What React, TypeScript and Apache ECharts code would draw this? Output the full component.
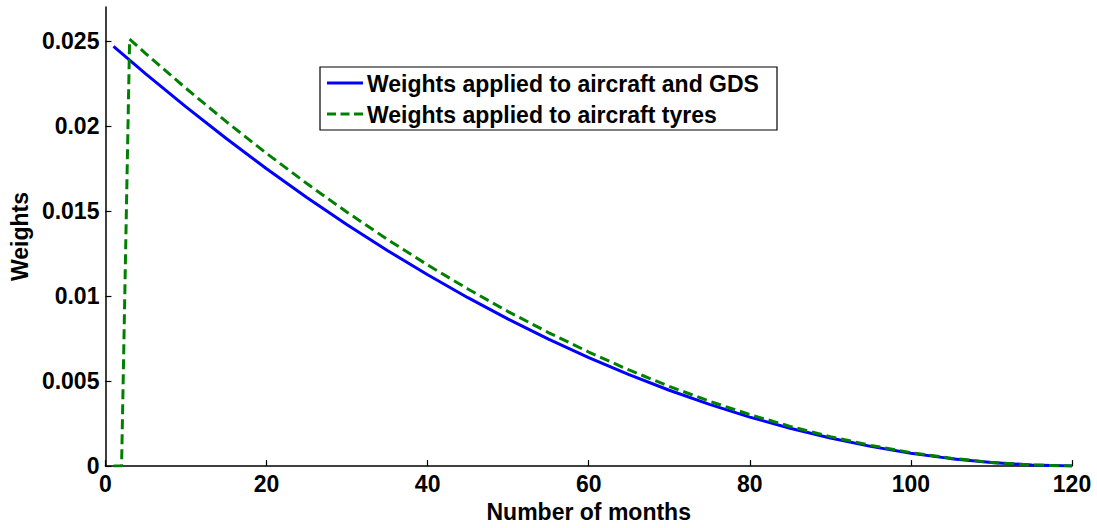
import React, { useEffect, useRef } from "react";
import * as echarts from "echarts";

const blueMonths = [1, 5, 10, 15, 20, 25, 30, 35, 40, 45, 50, 55, 60, 65, 70, 75, 80, 85, 90, 95, 100, 105, 110, 115, 120];
const blueValues = [0.02469, 0.023072, 0.021126, 0.019265, 0.017491, 0.015802, 0.014199, 0.012681, 0.01125, 0.009904, 0.008643, 0.007469, 0.00638, 0.005377, 0.00446, 0.003628, 0.002882, 0.002222, 0.001648, 0.001159, 0.000756, 0.000439, 0.000207, 0.000062, 0.0000017];

const greenMonths = [1, 2, 3, 5, 10, 15, 20, 25, 30, 35, 40, 45, 50, 55, 60, 65, 70, 75, 80, 85, 90, 95, 100, 105, 110, 115, 120];
const greenValues = [0, 0, 0.025104, 0.02426, 0.022214, 0.020258, 0.018391, 0.016616, 0.01493, 0.013334, 0.011829, 0.010414, 0.009088, 0.007853, 0.006709, 0.005654, 0.004689, 0.003815, 0.003031, 0.002337, 0.001733, 0.001219, 0.000795, 0.000462, 0.000218, 0.000065, 0.000002];

const yTicks = [0, 0.005, 0.01, 0.015, 0.02, 0.025];
const xTicks = [0, 20, 40, 60, 80, 100, 120];

const seriesNames = ["Weights applied to aircraft and GDS", "Weights applied to aircraft tyres"];

const FONT = "'Liberation Sans', Arial, sans-serif";
const FS = 23;
const BLUE = "#0000ff";
const GREEN = "#008000";

export default function App() {
  const ref = useRef<HTMLDivElement>(null);
  useEffect(() => {
    document.body.style.margin = "0";
    if (!ref.current) return;
    const chart = echarts.init(ref.current, undefined, { renderer: "svg" });
    const textStyle = { fontFamily: FONT, fontWeight: "bold" as const, fontSize: FS, color: "#000" };
    const legendText = { fontFamily: FONT, fontWeight: "bold", fontSize: FS, fill: "#000", verticalAlign: "middle", align: "left" };
    chart.setOption({
      animation: false,
      backgroundColor: "#fff",
      textStyle: { fontFamily: FONT },
      grid: { left: 105, right: 25, top: 7, bottom: 54, containLabel: false },
      xAxis: {
        type: "value",
        min: 0,
        max: 120,
        interval: 20,
        name: "Number of months",
        nameLocation: "middle",
        nameGap: 29,
        nameTextStyle: textStyle,
        axisLine: { show: true, lineStyle: { color: "#000", width: 1.5 } },
        axisTick: { show: true, inside: true, length: 6, lineStyle: { color: "#000", width: 1.2 }, customValues: xTicks },
        axisLabel: { ...textStyle, margin: 6, customValues: xTicks },
        splitLine: { show: false },
      },
      yAxis: {
        type: "value",
        min: 0,
        max: 0.027,
        name: "Weights",
        nameLocation: "middle",
        nameGap: 70,
        nameRotate: 90,
        nameTextStyle: textStyle,
        axisLine: { show: true, lineStyle: { color: "#000", width: 1.5 } },
        axisTick: { show: true, inside: true, length: 6, lineStyle: { color: "#000", width: 1.2 }, customValues: yTicks },
        axisLabel: { ...textStyle, margin: 6, customValues: yTicks, formatter: (v: number) => String(+v.toFixed(4)) },
        splitLine: { show: false },
      },
      graphic: [
        {
          type: "rect",
          shape: { x: 320, y: 67, width: 457, height: 63 },
          style: { fill: "#fff", stroke: "#000", lineWidth: 1.2 },
          z: 100,
        },
        {
          type: "line",
          shape: { x1: 327, y1: 83, x2: 363, y2: 83 },
          style: { stroke: BLUE, lineWidth: 3 },
          z: 101,
        },
        {
          type: "text",
          x: 367,
          y: 84,
          style: { text: seriesNames[0], ...legendText },
          z: 101,
        },
        {
          type: "line",
          shape: { x1: 327, y1: 114, x2: 363, y2: 114 },
          style: { stroke: GREEN, lineWidth: 3, lineDash: [9, 4.5] },
          z: 101,
        },
        {
          type: "text",
          x: 367,
          y: 115,
          style: { text: seriesNames[1], ...legendText },
          z: 101,
        },
      ],
      series: [
        {
          name: seriesNames[0],
          type: "line",
          data: blueMonths.map((m, i) => [m, blueValues[i]]),
          showSymbol: false,
          symbol: "none",
          lineStyle: { color: BLUE, width: 3 },
          itemStyle: { color: BLUE },
          z: 2,
        },
        {
          name: seriesNames[1],
          type: "line",
          data: greenMonths.map((m, i) => [m, greenValues[i]]),
          showSymbol: false,
          symbol: "none",
          lineStyle: { color: GREEN, width: 3, type: [10, 5] },
          itemStyle: { color: GREEN },
          z: 3,
        },
      ],
    });
    return () => chart.dispose();
  }, []);
  return <div ref={ref} style={{ width: 1097, height: 528 }} />;
}
